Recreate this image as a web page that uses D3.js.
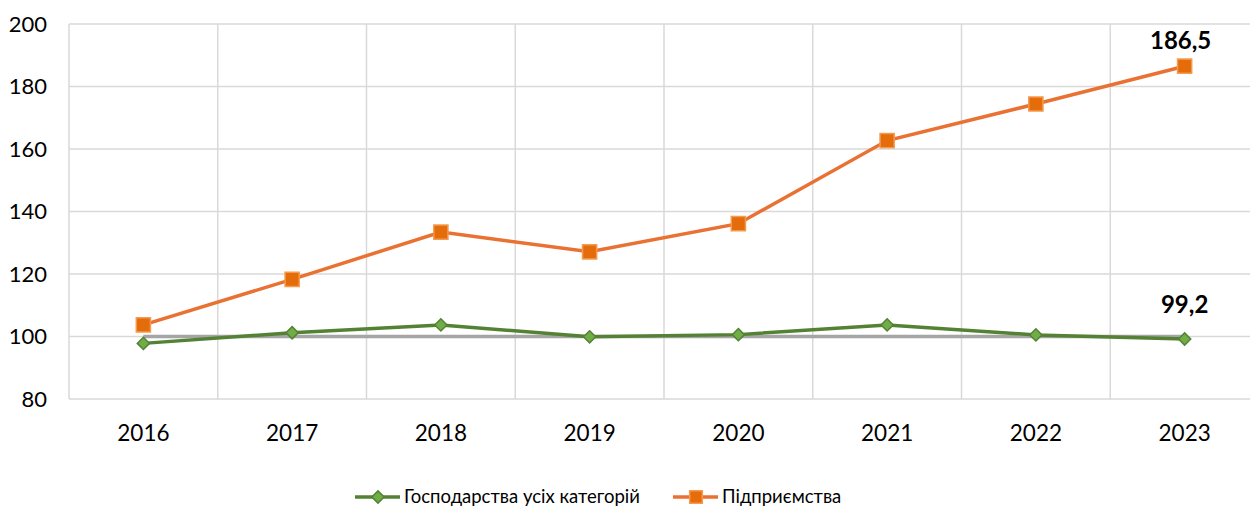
<!DOCTYPE html>
<html>
<head>
<meta charset="utf-8">
<script src="https://cdn.jsdelivr.net/npm/d3@7"></script>
<style>
  body { margin: 0; background: #fff; }
  svg text { font-family: Lato, "Open Sans", sans-serif; fill: #000; }
</style>
</head>
<body>
<div id="chart"></div>
<script>
// chart data
const years = ['2016', '2017', '2018', '2019', '2020', '2021', '2022', '2023'];
const households = [97.8, 101.2, 103.7, 99.9, 100.6, 103.7, 100.5, 99.2];
const enterprises = [103.7, 118.3, 133.4, 127.1, 136.1, 162.7, 174.4, 186.5];
const baseline = [100, 100, 100, 100, 100, 100, 100, 100];
const yTicks = [80, 100, 120, 140, 160, 180, 200];
const seriesNames = ['Господарства усіх категорій', 'Підприємства'];

const width = 1250;
const height = 508;
const margin = { top: 24, left: 69, bottom: 109 };
const plotRight = 1259;

const svg = d3.select('#chart').append('svg')
  .attr('width', width)
  .attr('height', height);

const x = d3.scaleBand()
  .domain(years)
  .range([margin.left, plotRight]);

const y = d3.scaleLinear()
  .domain([80, 200])
  .range([height - margin.bottom, margin.top]);

const cx = d => x(d) + x.bandwidth() / 2;

// gridlines
svg.append('g')
  .selectAll('line')
  .data(yTicks)
  .enter().append('line')
  .attr('x1', margin.left).attr('x2', plotRight)
  .attr('y1', d => y(d)).attr('y2', d => y(d))
  .style('stroke', '#d9d9d9').style('stroke-width', 1.5);

svg.append('g')
  .selectAll('line')
  .data(years.concat(['end']))
  .enter().append('line')
  .attr('x1', (d, i) => margin.left + i * x.bandwidth())
  .attr('x2', (d, i) => margin.left + i * x.bandwidth())
  .attr('y1', y(80)).attr('y2', y(200))
  .style('stroke', '#d9d9d9').style('stroke-width', 1.5);

// axes
const yAxis = svg.append('g')
  .attr('transform', `translate(${margin.left},0)`)
  .call(d3.axisLeft(y).tickValues(yTicks).tickSize(0).tickPadding(22));
yAxis.select('.domain').remove();
yAxis.selectAll('text').style('font-size', '22px');

const xAxis = svg.append('g')
  .attr('transform', `translate(0,${y(80)})`)
  .call(d3.axisBottom(x).tickSize(0).tickPadding(26));
xAxis.select('.domain').remove();
xAxis.selectAll('text').style('font-size', '22.5px');

const line = d3.line()
  .x((d, i) => cx(years[i]))
  .y(d => y(d));

// 100 reference line
svg.append('path')
  .datum(baseline)
  .attr('d', line)
  .style('fill', 'none')
  .style('stroke', '#a5a5a5')
  .style('stroke-width', 3.5);

// households
svg.append('path')
  .datum(households)
  .attr('d', line)
  .style('fill', 'none')
  .style('stroke', '#548235')
  .style('stroke-width', 3.5);

const diamond = d3.symbol().type(d3.symbolDiamond2).size(95);
const square = d3.symbol().type(d3.symbolSquare).size(200);

svg.append('g')
  .selectAll('path')
  .data(households)
  .enter().append('path')
  .attr('d', diamond)
  .attr('transform', (d, i) => `translate(${cx(years[i])},${y(d)})`)
  .style('fill', '#70ad47')
  .style('stroke', '#548235')
  .style('stroke-width', 1.5);

// enterprises
svg.append('path')
  .datum(enterprises)
  .attr('d', line)
  .style('fill', 'none')
  .style('stroke', '#e97132')
  .style('stroke-width', 3.5);

svg.append('g')
  .selectAll('path')
  .data(enterprises)
  .enter().append('path')
  .attr('d', square)
  .attr('transform', (d, i) => `translate(${cx(years[i])},${y(d)})`)
  .style('fill', '#e46c0a')
  .style('stroke', '#f59a4f')
  .style('stroke-width', 1.5);

// labels on last point
const fmt = v => String(v).replace('.', ',');
const last = years.length - 1;
svg.append('text')
  .attr('x', cx(years[last]) - 4)
  .attr('y', y(enterprises[last]) - 17)
  .style('text-anchor', 'middle')
  .style('font-size', '24px')
  .style('font-weight', 'bold')
  .text(fmt(enterprises[last]));

svg.append('text')
  .attr('x', cx(years[last]))
  .attr('y', y(households[last]) - 26)
  .style('text-anchor', 'middle')
  .style('font-size', '24px')
  .style('font-weight', 'bold')
  .text(fmt(households[last]));

// legend
const legend = svg.append('g').attr('transform', 'translate(0,497)');
const legendItems = [
  { name: seriesNames[0], x: 355, color: '#548235', fill: '#70ad47', stroke: '#548235', sym: diamond },
  { name: seriesNames[1], x: 673, color: '#e97132', fill: '#e46c0a', stroke: '#f59a4f', sym: d3.symbol().type(d3.symbolSquare).size(160) }
];
const li = legend.selectAll('g')
  .data(legendItems)
  .enter().append('g')
  .attr('transform', d => `translate(${d.x},0)`);
li.append('line')
  .attr('x1', 0).attr('x2', 45)
  .style('stroke', d => d.color).style('stroke-width', 3.5);
li.append('path')
  .attr('d', d => d.sym())
  .attr('transform', 'translate(23,0)')
  .style('fill', d => d.fill)
  .style('stroke', d => d.stroke)
  .style('stroke-width', 1.5);
li.append('text')
  .attr('x', 49)
  .attr('dy', '0.35em')
  .style('font-size', '18.5px')
  .text(d => d.name);
</script>
</body>
</html>
